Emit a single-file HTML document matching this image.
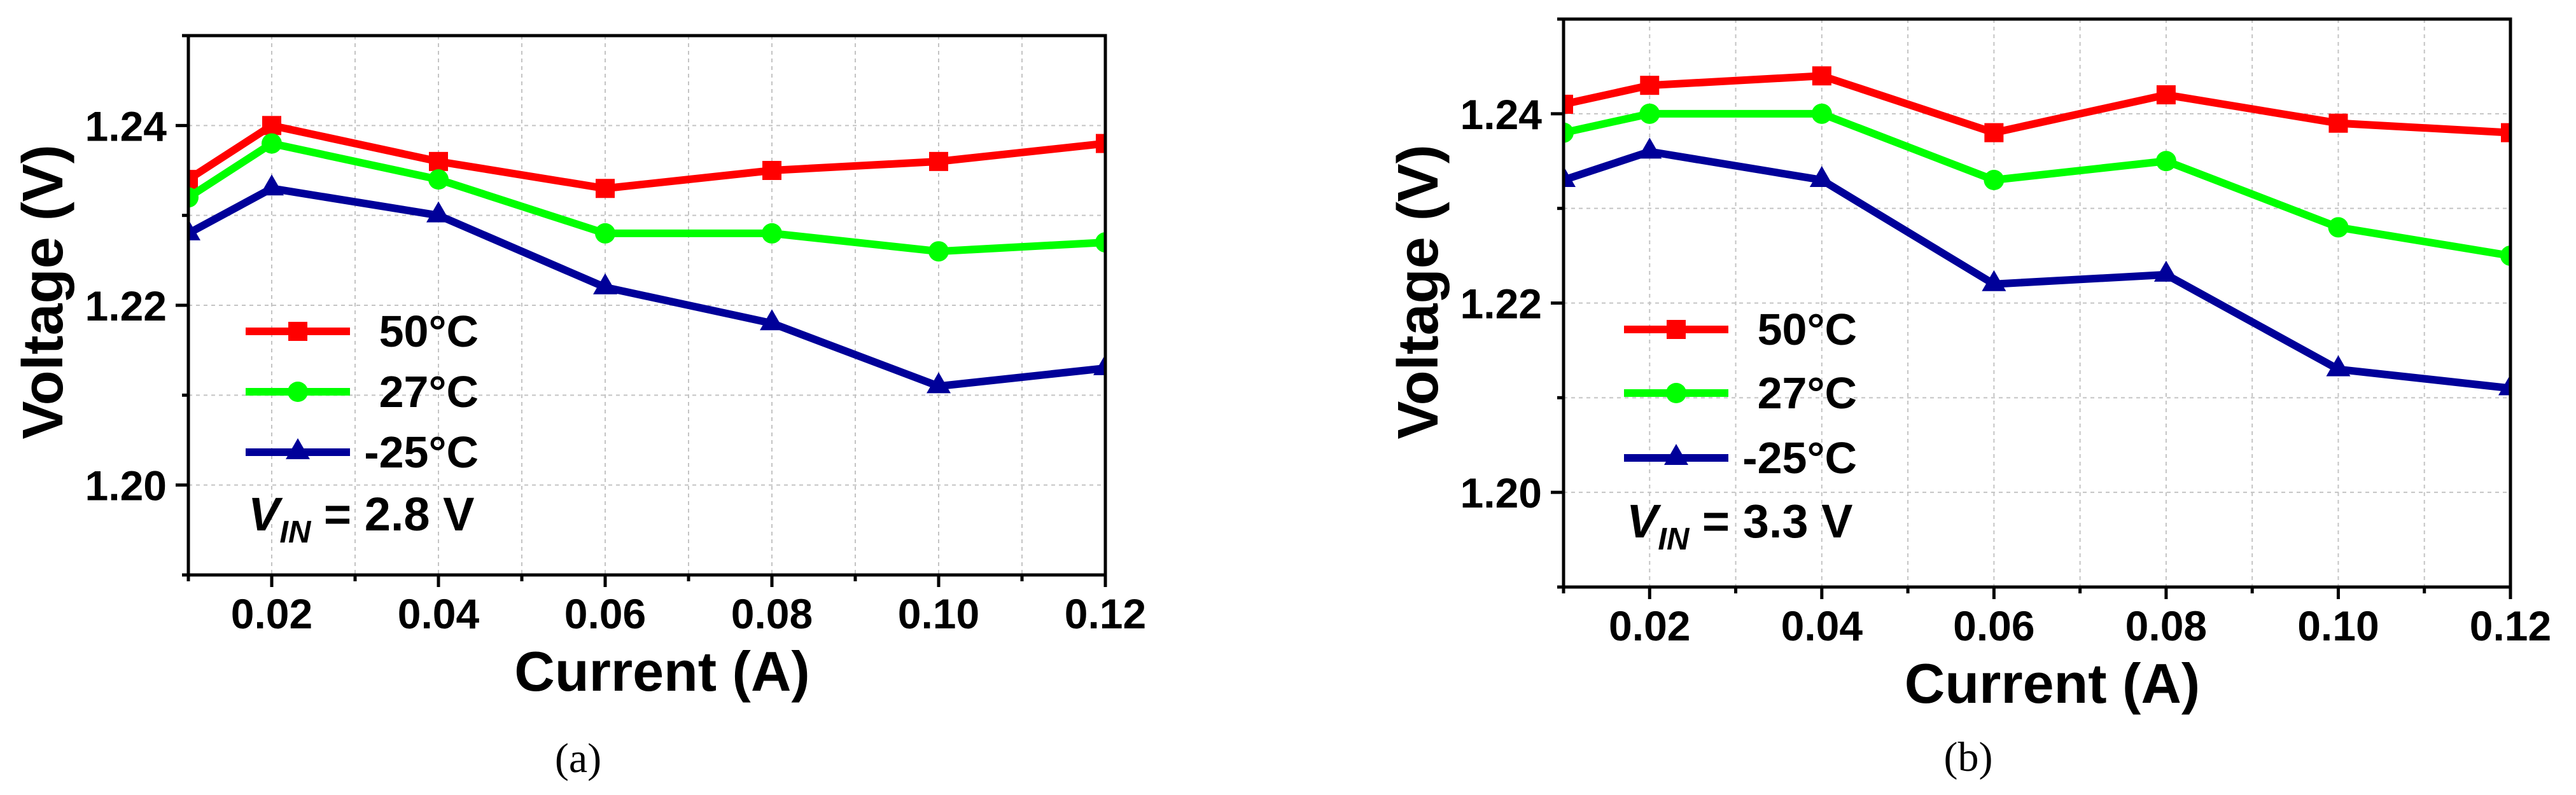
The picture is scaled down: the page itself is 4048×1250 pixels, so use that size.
<!DOCTYPE html>
<html><head><meta charset="utf-8"><style>
html,body{margin:0;padding:0;background:#fff;}
svg{display:block;font-family:"Liberation Sans",Arial,sans-serif;}
</style></head><body>
<svg id="fig" width="4048" height="1250" viewBox="0 0 4048 1250" xmlns="http://www.w3.org/2000/svg"></svg>
<script>
const currents = [0.01, 0.02, 0.04, 0.06, 0.08, 0.10, 0.12];
const seriesNames = ["50°C", "27°C", "-25°C"];
const panelA_50 = [1.234, 1.240, 1.236, 1.233, 1.235, 1.236, 1.238];
const panelA_27 = [1.232, 1.238, 1.234, 1.228, 1.228, 1.226, 1.227];
const panelA_m25 = [1.228, 1.233, 1.230, 1.222, 1.218, 1.211, 1.213];
const panelB_50 = [1.241, 1.243, 1.244, 1.238, 1.242, 1.239, 1.238];
const panelB_27 = [1.238, 1.240, 1.240, 1.233, 1.235, 1.228, 1.225];
const panelB_m25 = [1.233, 1.236, 1.233, 1.222, 1.223, 1.213, 1.211];
const xTickValues = [0.02, 0.04, 0.06, 0.08, 0.10, 0.12];
const xTickLabels = ["0.02", "0.04", "0.06", "0.08", "0.10", "0.12"];
const yTickValues = [1.20, 1.22, 1.24];
const yTickLabels = ["1.20", "1.22", "1.24"];
const vinLabels = ["2.8 V", "3.3 V"];
const captions = ["(a)", "(b)"];

const NS = "http://www.w3.org/2000/svg";
const svg = document.getElementById('fig');
const colors = ["#ff0000", "#00ff00", "#000099"];
const markers = ["square", "circle", "triangle"];

function mk(tag, attrs, parent) {
  const e = document.createElementNS(NS, tag);
  for (const k in attrs) e.setAttribute(k, attrs[k]);
  (parent || svg).appendChild(e);
  return e;
}

function drawPanel(idx, L, R, T, B, dx, series) {
  const x0 = 0.01, x1 = 0.12, y0 = 1.19, y1 = 1.25;
  const sx = v => L + (v - x0) / (x1 - x0) * (R - L);
  const sy = v => B - (v - y0) / (y1 - y0) * (B - T);
  const g = mk('g', {});
  
  

  // grid
  for (let i = 2; i <= 11; i++) {
    const x = sx(i / 100);
    const l = mk('line', {x1: x, x2: x, y1: T, y2: B, stroke: '#c4c4c4', 'stroke-width': 2, 'stroke-dasharray': '6 6'}, g);
    
    
  }
  for (let i = 120; i <= 124; i++) {
    const y = sy(i / 100);
    const l = mk('line', {x1: L, x2: R, y1: y, y2: y, stroke: '#c4c4c4', 'stroke-width': 2, 'stroke-dasharray': '6 6'}, g);
    
    
  }

  // clip
  const cid = 'clip' + idx;
  const cp = mk('clipPath', {id: cid}, g);
  mk('rect', {x: L, y: T, width: R - L, height: B - T}, cp);
  const dg = mk('g', {'clip-path': 'url(#' + cid + ')'}, g);

  series.forEach((vals, s) => {
    const pts = vals.map((v, i) => sx(currents[i]) + ',' + sy(v)).join(' ');
    const pl = mk('polyline', {points: pts, fill: 'none', stroke: colors[s], 'stroke-width': 12, 'stroke-linejoin': 'miter'}, dg);
    
    
    vals.forEach((v, i) => {
      const m = drawMarker(markers[s], sx(currents[i]), sy(v), colors[s], dg);
      
      
    });
  });

  // axes box
  const box = mk('rect', {x: L, y: T, width: R - L, height: B - T, fill: 'none', stroke: '#000', 'stroke-width': 5}, g);
  
  

  // y ticks
  for (let i = 119; i <= 125; i++) {
    const y = sy(i / 100);
    const major = (i % 2 === 0);
    mk('line', {x1: L - (major ? 20 : 10), x2: L, y1: y, y2: y, stroke: '#000', 'stroke-width': 5}, g);
  }
  yTickValues.forEach((v, i) => {
    const t = mk('text', {x: L - 34, y: sy(v) + 24, 'text-anchor': 'end', 'font-size': 66, 'font-weight': 'bold'}, g);
    t.textContent = yTickLabels[i];
    
    
  });
  // x ticks
  for (let i = 1; i <= 12; i++) {
    const x = sx(i / 100);
    const major = (i % 2 === 0);
    mk('line', {x1: x, x2: x, y1: B, y2: B + (major ? 19 : 10), stroke: '#000', 'stroke-width': 5}, g);
  }
  xTickValues.forEach((v, i) => {
    const t = mk('text', {x: sx(v), y: B + 84, 'text-anchor': 'middle', 'font-size': 66, 'font-weight': 'bold'}, g);
    t.textContent = xTickLabels[i];
    
    
  });

  // axis titles
  const yt = mk('text', {x: 0, y: 0, 'text-anchor': 'middle', 'font-size': 90, 'font-weight': 'bold', transform: 'translate(' + (98 + dx) + ',' + 459 + ') rotate(-90)'}, g);
  yt.textContent = 'Voltage (V)';
  
  
  const xt = mk('text', {x: (L + R) / 2 + 24, y: B + 182, 'text-anchor': 'middle', 'font-size': 88, 'font-weight': 'bold'}, g);
  xt.textContent = 'Current (A)';
  
  

  // legend
  const lyA = [521, 616, 711];
  const lyB = [518, 618, 720];
  const ly = idx === 0 ? lyA : lyB;
  const lx1 = 386 + (idx === 0 ? 0 : 2166), lx2 = lx1 + 164;
  seriesNames.forEach((nm, s) => {
    const lg = mk('g', {}, g);
    
    
    mk('line', {x1: lx1, x2: lx2, y1: ly[s], y2: ly[s], stroke: colors[s], 'stroke-width': 12}, lg);
    drawMarker(markers[s], (lx1 + lx2) / 2, ly[s], colors[s], lg);
    const t = mk('text', {x: lx2 + 202, y: ly[s] + 24, 'text-anchor': 'end', 'font-size': 70, 'font-weight': 'bold'}, lg);
    t.textContent = nm;
  });
  const vy = idx === 0 ? 834 : 845;
  const vt = mk('text', {x: lx1 + 4, y: vy, 'font-size': 74, 'font-weight': 'bold'}, g);
  
  
  const t1 = mk('tspan', {'font-style': 'italic'}, vt); t1.textContent = 'V';
  const t2 = mk('tspan', {'font-style': 'italic', 'font-size': 49, dy: 19}, vt); t2.textContent = 'IN';
  const t3 = mk('tspan', {dy: -19}, vt); t3.textContent = ' = ' + vinLabels[idx];

  const cap = mk('text', {x: (L + R) / 2 - 108, y: idx === 0 ? 1214 : 1212, 'text-anchor': 'middle', 'font-size': 66, 'font-family': '"Liberation Serif", serif'}, g);
  cap.textContent = captions[idx];
  
  
}

function drawMarker(type, x, y, c, parent) {
  if (type === 'square') return mk('rect', {x: x - 15, y: y - 15, width: 30, height: 30, fill: c}, parent);
  if (type === 'circle') return mk('circle', {cx: x, cy: y, r: 16, fill: c}, parent);
  return mk('polygon', {points: (x) + ',' + (y - 22) + ' ' + (x - 19) + ',' + (y + 11) + ' ' + (x + 19) + ',' + (y + 11), fill: c}, parent);
}

drawPanel(0, 296, 1737, 56, 904, 0, [panelA_50, panelA_27, panelA_m25]);
drawPanel(1, 2457, 3945, 30, 923, 2161, [panelB_50, panelB_27, panelB_m25]);
</script>
</body></html>
